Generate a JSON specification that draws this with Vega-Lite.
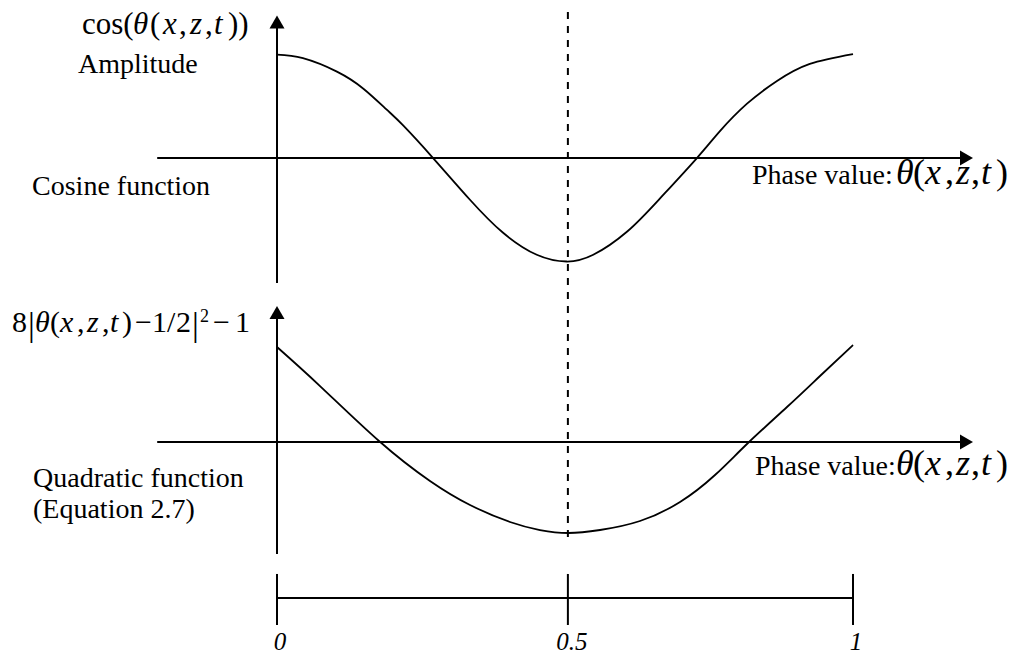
{
  "$schema": "https://vega.github.io/schema/vega-lite/v6.json",
  "width": 1017,
  "height": 655,
  "padding": 0,
  "autosize": "none",
  "background": "white",
  "config": {"view": {"stroke": null}, "text": {"font": "Liberation Serif", "color": "black"}},
  "datasets": {
    "cosCurve": [
      {"phase": 0, "amp": 1.0}, {"phase": 0.045, "amp": 0.965}, {"phase": 0.104, "amp": 0.835},
      {"phase": 0.15, "amp": 0.67}, {"phase": 0.19, "amp": 0.47}, {"phase": 0.219, "amp": 0.315},
      {"phase": 0.271, "amp": 0}, {"phase": 0.335, "amp": -0.403}, {"phase": 0.392, "amp": -0.72},
      {"phase": 0.451, "amp": -0.935}, {"phase": 0.503, "amp": -1.0}, {"phase": 0.549, "amp": -0.935},
      {"phase": 0.608, "amp": -0.71}, {"phase": 0.665, "amp": -0.39}, {"phase": 0.729, "amp": 0},
      {"phase": 0.769, "amp": 0.26}, {"phase": 0.816, "amp": 0.525}, {"phase": 0.868, "amp": 0.745},
      {"phase": 0.925, "amp": 0.91}, {"phase": 1.0, "amp": 1.005}
    ],
    "quadCurve": [
      {"phase": 0, "value": 1.0}, {"phase": 0.0747, "value": 0.589}, {"phase": 0.1771, "value": 0.0105},
      {"phase": 0.2656, "value": -0.4105}, {"phase": 0.3351, "value": -0.6632}, {"phase": 0.4045, "value": -0.8421},
      {"phase": 0.4566, "value": -0.9263}, {"phase": 0.5052, "value": -0.9579}, {"phase": 0.5608, "value": -0.9263},
      {"phase": 0.6302, "value": -0.8316}, {"phase": 0.6997, "value": -0.6316}, {"phase": 0.7604, "value": -0.3474},
      {"phase": 0.8177, "value": -0.0105}, {"phase": 0.8854, "value": 0.3684}, {"phase": 0.9427, "value": 0.6947},
      {"phase": 1.0, "value": 1.0211}
    ],
    "topAxes": [
      {"x1": -0.208, "x2": 1.19, "y1": 0, "y2": 0},
      {"x1": 0, "x2": 0, "y1": -1.208, "y2": 1.3}
    ],
    "guide": [
      {"x1": 0.505, "x2": 0.505, "y1": 1.411, "y2": -3.671}
    ],
    "topArrows": [
      {"x": 0, "y": 1.314, "shape": "triangle-up"},
      {"x": 1.197, "y": 0, "shape": "triangle-right"}
    ],
    "topText": [
      {"x": -0.3455, "y": 0.821, "text": "Amplitude", "size": 28, "style": "normal"},
      {"x": -0.4253, "y": -0.357, "text": "Cosine function", "size": 28, "style": "normal"},
      {"x": -0.3385, "y": 1.198, "text": "cos(", "size": 31, "style": "normal"},
      {"x": -0.25, "y": 1.198, "text": "θ", "size": 31, "style": "italic"},
      {"x": -0.2205, "y": 1.198, "text": "(", "size": 31, "style": "normal"},
      {"x": -0.1979, "y": 1.198, "text": "x", "size": 31, "style": "italic"},
      {"x": -0.1701, "y": 1.198, "text": ",", "size": 31, "style": "normal"},
      {"x": -0.151, "y": 1.198, "text": "z", "size": 31, "style": "italic"},
      {"x": -0.125, "y": 1.198, "text": ",", "size": 31, "style": "normal"},
      {"x": -0.1094, "y": 1.198, "text": "t", "size": 31, "style": "italic"},
      {"x": -0.0851, "y": 1.198, "text": "))", "size": 31, "style": "normal"},
      {"x": 0.8247, "y": -0.251, "text": "Phase value:", "size": 28, "style": "normal"},
      {"x": 1.0747, "y": -0.251, "text": "θ", "size": 36, "style": "italic"},
      {"x": 1.1042, "y": -0.251, "text": "(", "size": 36, "style": "normal"},
      {"x": 1.125, "y": -0.251, "text": "x", "size": 36, "style": "italic"},
      {"x": 1.1597, "y": -0.251, "text": ",", "size": 36, "style": "normal"},
      {"x": 1.1788, "y": -0.251, "text": "z", "size": 36, "style": "italic"},
      {"x": 1.2049, "y": -0.251, "text": ",", "size": 36, "style": "normal"},
      {"x": 1.2222, "y": -0.251, "text": "t", "size": 36, "style": "italic"},
      {"x": 1.2483, "y": -0.251, "text": ")", "size": 36, "style": "normal"}
    ],
    "bottomAxes": [
      {"x1": -0.208, "x2": 1.19, "y1": 0, "y2": 0},
      {"x1": 0, "x2": 0, "y1": -1.179, "y2": 1.35},
      {"x1": 0, "x2": 1, "y1": -1.642, "y2": -1.642},
      {"x1": 0, "x2": 0, "y1": -1.389, "y2": -1.926},
      {"x1": 0.505, "x2": 0.505, "y1": -1.389, "y2": -1.926},
      {"x1": 1, "x2": 1, "y1": -1.389, "y2": -1.926}
    ],
    "bottomArrows": [
      {"x": 0, "y": 1.363, "shape": "triangle-up"},
      {"x": 1.197, "y": 0, "shape": "triangle-right"}
    ],
    "bottomText": [
      {"x": -0.4601, "y": 1.158, "text": "8", "size": 30, "style": "normal"},
      {"x": -0.4323, "y": 1.116, "text": "|", "size": 34, "style": "normal"},
      {"x": -0.4201, "y": 1.158, "text": "θ", "size": 30, "style": "italic"},
      {"x": -0.3941, "y": 1.158, "text": "(", "size": 30, "style": "normal"},
      {"x": -0.3767, "y": 1.158, "text": "x", "size": 30, "style": "italic"},
      {"x": -0.3472, "y": 1.158, "text": ",", "size": 30, "style": "normal"},
      {"x": -0.3299, "y": 1.158, "text": "z", "size": 30, "style": "italic"},
      {"x": -0.3038, "y": 1.158, "text": ",", "size": 30, "style": "normal"},
      {"x": -0.2899, "y": 1.158, "text": "t", "size": 30, "style": "italic"},
      {"x": -0.2691, "y": 1.158, "text": ")", "size": 30, "style": "normal"},
      {"x": -0.2465, "y": 1.158, "text": "−", "size": 30, "style": "normal"},
      {"x": -0.217, "y": 1.158, "text": "1", "size": 30, "style": "normal"},
      {"x": -0.191, "y": 1.158, "text": "/", "size": 30, "style": "normal"},
      {"x": -0.1753, "y": 1.158, "text": "2", "size": 30, "style": "normal"},
      {"x": -0.1476, "y": 1.116, "text": "|", "size": 34, "style": "normal"},
      {"x": -0.1337, "y": 1.263, "text": "2", "size": 18, "style": "normal"},
      {"x": -0.1111, "y": 1.158, "text": "−", "size": 30, "style": "normal"},
      {"x": -0.0729, "y": 1.158, "text": "1", "size": 30, "style": "normal"},
      {"x": -0.4236, "y": -0.474, "text": "Quadratic function", "size": 28, "style": "normal"},
      {"x": -0.4236, "y": -0.8, "text": "(Equation 2.7)", "size": 28, "style": "normal"},
      {"x": 0.8299, "y": -0.347, "text": "Phase value:", "size": 28, "style": "normal"},
      {"x": 1.0747, "y": -0.347, "text": "θ", "size": 36, "style": "italic"},
      {"x": 1.1042, "y": -0.347, "text": "(", "size": 36, "style": "normal"},
      {"x": 1.125, "y": -0.347, "text": "x", "size": 36, "style": "italic"},
      {"x": 1.1597, "y": -0.347, "text": ",", "size": 36, "style": "normal"},
      {"x": 1.1788, "y": -0.347, "text": "z", "size": 36, "style": "italic"},
      {"x": 1.2049, "y": -0.347, "text": ",", "size": 36, "style": "normal"},
      {"x": 1.2222, "y": -0.347, "text": "t", "size": 36, "style": "italic"},
      {"x": 1.2483, "y": -0.347, "text": ")", "size": 36, "style": "normal"}
    ],
    "scaleLabels": [
      {"x": 0.005, "y": -2.189, "text": "0"},
      {"x": 0.512, "y": -2.189, "text": "0.5"},
      {"x": 1.005, "y": -2.189, "text": "1"}
    ]
  },
  "layer": [
    {
      "layer": [
        {
          "data": {"name": "cosCurve"},
          "mark": {"type": "line", "color": "black", "strokeWidth": 1.8, "interpolate": "natural"},
          "encoding": {
            "x": {"field": "phase", "type": "quantitative", "scale": {"domain": [-0.4809, 1.2847], "nice": false, "zero": false}, "axis": null},
            "y": {"field": "amp", "type": "quantitative", "scale": {"domain": [-4.802, 1.527], "nice": false, "zero": false}, "axis": null}
          }
        },
        {
          "data": {"name": "topAxes"},
          "mark": {"type": "rule", "color": "black", "strokeWidth": 2},
          "encoding": {
            "x": {"field": "x1", "type": "quantitative", "scale": {"domain": [-0.4809, 1.2847], "nice": false, "zero": false}, "axis": null},
            "x2": {"field": "x2"},
            "y": {"field": "y1", "type": "quantitative", "scale": {"domain": [-4.802, 1.527], "nice": false, "zero": false}, "axis": null},
            "y2": {"field": "y2"}
          }
        },
        {
          "data": {"name": "guide"},
          "mark": {"type": "rule", "color": "black", "strokeWidth": 2, "strokeDash": [7, 7]},
          "encoding": {
            "x": {"field": "x1", "type": "quantitative", "scale": {"domain": [-0.4809, 1.2847], "nice": false, "zero": false}, "axis": null},
            "x2": {"field": "x2"},
            "y": {"field": "y1", "type": "quantitative", "scale": {"domain": [-4.802, 1.527], "nice": false, "zero": false}, "axis": null},
            "y2": {"field": "y2"}
          }
        },
        {
          "data": {"name": "topArrows"},
          "mark": {"type": "point", "filled": true, "color": "black", "opacity": 1, "size": 225, "strokeWidth": 0},
          "encoding": {
            "x": {"field": "x", "type": "quantitative", "scale": {"domain": [-0.4809, 1.2847], "nice": false, "zero": false}, "axis": null},
            "y": {"field": "y", "type": "quantitative", "scale": {"domain": [-4.802, 1.527], "nice": false, "zero": false}, "axis": null},
            "shape": {"field": "shape", "type": "nominal", "scale": null, "legend": null}
          }
        },
        {
          "data": {"name": "topText"},
          "transform": [{"filter": {"field": "style", "equal": "normal"}}],
          "mark": {"type": "text", "align": "left", "baseline": "alphabetic", "font": "Liberation Serif"},
          "encoding": {
            "x": {"field": "x", "type": "quantitative", "scale": {"domain": [-0.4809, 1.2847], "nice": false, "zero": false}, "axis": null},
            "y": {"field": "y", "type": "quantitative", "scale": {"domain": [-4.802, 1.527], "nice": false, "zero": false}, "axis": null},
            "text": {"field": "text", "type": "nominal"},
            "size": {"field": "size", "type": "quantitative", "scale": null, "legend": null}
          }
        },
        {
          "data": {"name": "topText"},
          "transform": [{"filter": {"field": "style", "equal": "italic"}}],
          "mark": {"type": "text", "align": "left", "baseline": "alphabetic", "font": "Liberation Serif", "fontStyle": "italic"},
          "encoding": {
            "x": {"field": "x", "type": "quantitative", "scale": {"domain": [-0.4809, 1.2847], "nice": false, "zero": false}, "axis": null},
            "y": {"field": "y", "type": "quantitative", "scale": {"domain": [-4.802, 1.527], "nice": false, "zero": false}, "axis": null},
            "text": {"field": "text", "type": "nominal"},
            "size": {"field": "size", "type": "quantitative", "scale": null, "legend": null}
          }
        }
      ]
    },
    {
      "layer": [
        {
          "data": {"name": "quadCurve"},
          "mark": {"type": "line", "color": "black", "strokeWidth": 1.8, "interpolate": "natural"},
          "encoding": {
            "x": {"field": "phase", "type": "quantitative", "scale": {"domain": [-0.4809, 1.2847], "nice": false, "zero": false}, "axis": null},
            "y": {"field": "value", "type": "quantitative", "scale": {"domain": [-2.242, 4.653], "nice": false, "zero": false}, "axis": null}
          }
        },
        {
          "data": {"name": "bottomAxes"},
          "mark": {"type": "rule", "color": "black", "strokeWidth": 2},
          "encoding": {
            "x": {"field": "x1", "type": "quantitative", "scale": {"domain": [-0.4809, 1.2847], "nice": false, "zero": false}, "axis": null},
            "x2": {"field": "x2"},
            "y": {"field": "y1", "type": "quantitative", "scale": {"domain": [-2.242, 4.653], "nice": false, "zero": false}, "axis": null},
            "y2": {"field": "y2"}
          }
        },
        {
          "data": {"name": "bottomArrows"},
          "mark": {"type": "point", "filled": true, "color": "black", "opacity": 1, "size": 225, "strokeWidth": 0},
          "encoding": {
            "x": {"field": "x", "type": "quantitative", "scale": {"domain": [-0.4809, 1.2847], "nice": false, "zero": false}, "axis": null},
            "y": {"field": "y", "type": "quantitative", "scale": {"domain": [-2.242, 4.653], "nice": false, "zero": false}, "axis": null},
            "shape": {"field": "shape", "type": "nominal", "scale": null, "legend": null}
          }
        },
        {
          "data": {"name": "bottomText"},
          "transform": [{"filter": {"field": "style", "equal": "normal"}}],
          "mark": {"type": "text", "align": "left", "baseline": "alphabetic", "font": "Liberation Serif"},
          "encoding": {
            "x": {"field": "x", "type": "quantitative", "scale": {"domain": [-0.4809, 1.2847], "nice": false, "zero": false}, "axis": null},
            "y": {"field": "y", "type": "quantitative", "scale": {"domain": [-2.242, 4.653], "nice": false, "zero": false}, "axis": null},
            "text": {"field": "text", "type": "nominal"},
            "size": {"field": "size", "type": "quantitative", "scale": null, "legend": null}
          }
        },
        {
          "data": {"name": "bottomText"},
          "transform": [{"filter": {"field": "style", "equal": "italic"}}],
          "mark": {"type": "text", "align": "left", "baseline": "alphabetic", "font": "Liberation Serif", "fontStyle": "italic"},
          "encoding": {
            "x": {"field": "x", "type": "quantitative", "scale": {"domain": [-0.4809, 1.2847], "nice": false, "zero": false}, "axis": null},
            "y": {"field": "y", "type": "quantitative", "scale": {"domain": [-2.242, 4.653], "nice": false, "zero": false}, "axis": null},
            "text": {"field": "text", "type": "nominal"},
            "size": {"field": "size", "type": "quantitative", "scale": null, "legend": null}
          }
        },
        {
          "data": {"name": "scaleLabels"},
          "mark": {"type": "text", "align": "center", "baseline": "alphabetic", "font": "Liberation Serif", "fontStyle": "italic", "fontSize": 25},
          "encoding": {
            "x": {"field": "x", "type": "quantitative", "scale": {"domain": [-0.4809, 1.2847], "nice": false, "zero": false}, "axis": null},
            "y": {"field": "y", "type": "quantitative", "scale": {"domain": [-2.242, 4.653], "nice": false, "zero": false}, "axis": null},
            "text": {"field": "text", "type": "nominal"}
          }
        }
      ]
    }
  ],
  "resolve": {"scale": {"y": "independent"}}
}
